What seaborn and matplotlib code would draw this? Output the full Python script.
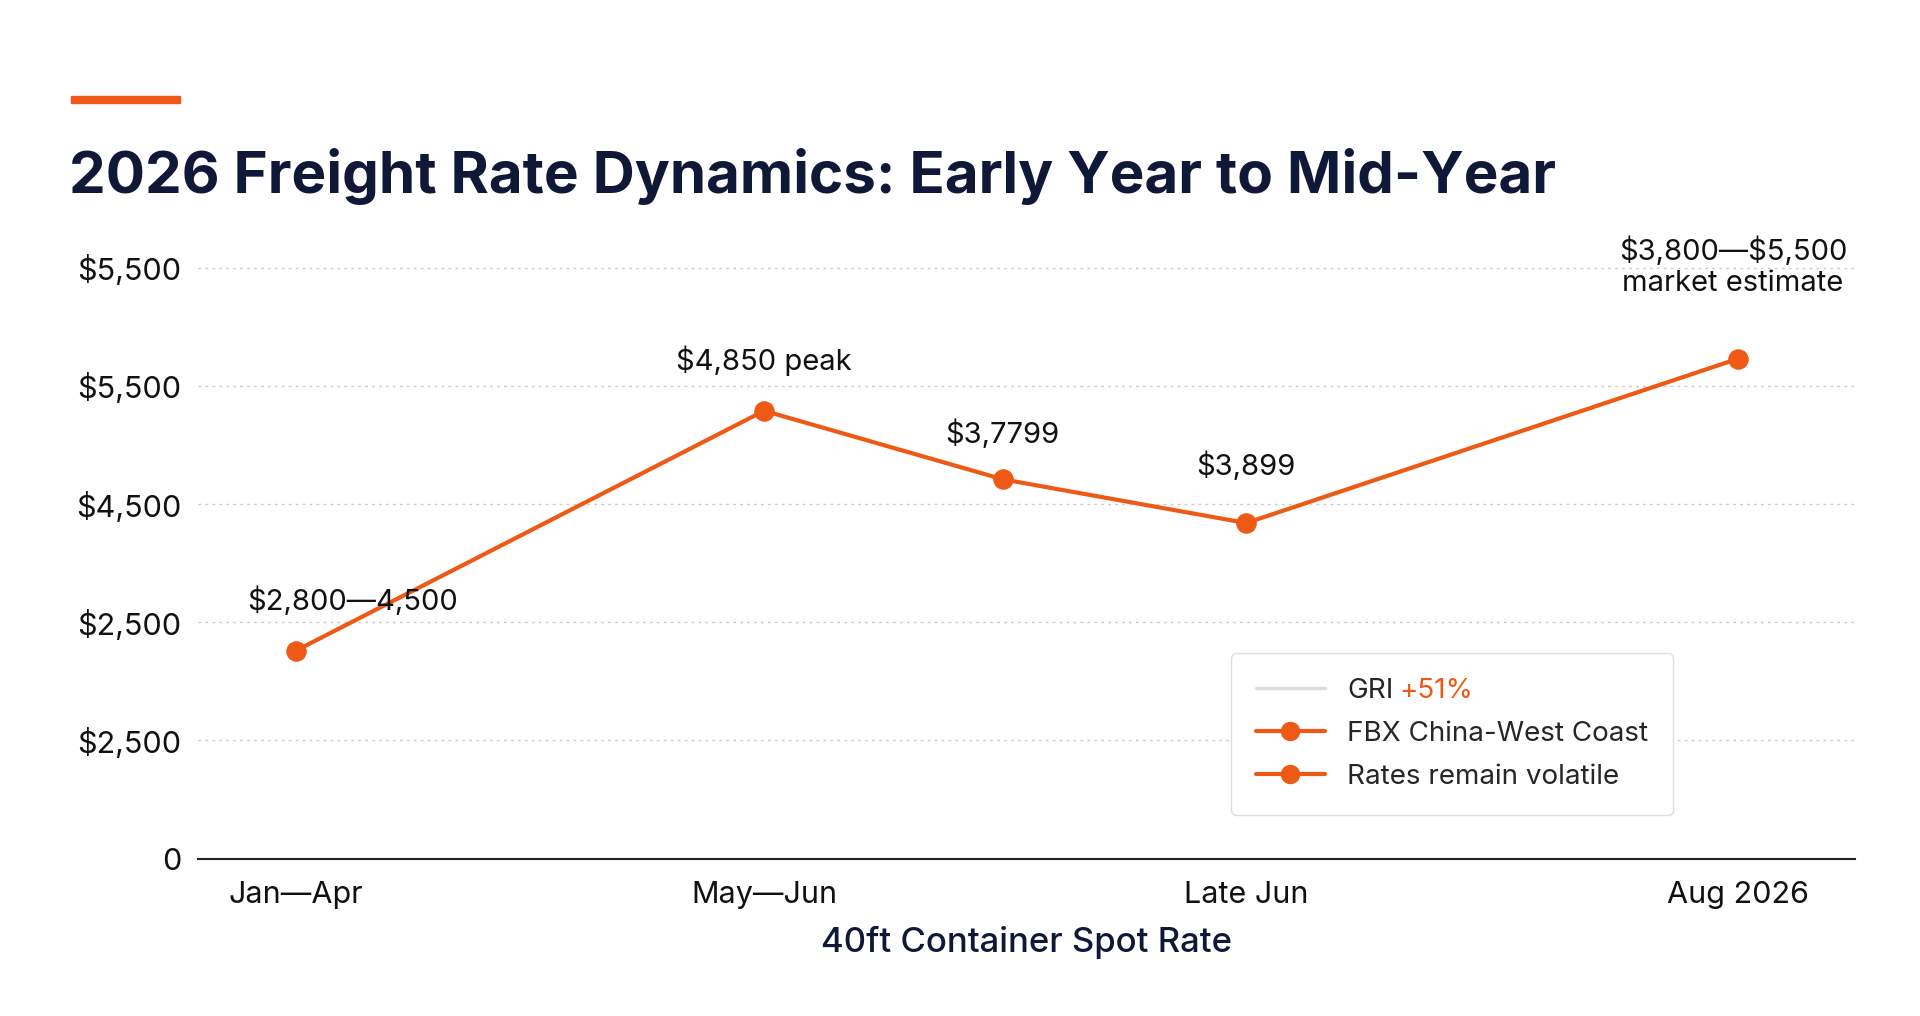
import matplotlib
matplotlib.use("Agg")
import matplotlib.pyplot as plt
import seaborn as sns
import pandas as pd
from matplotlib.lines import Line2D
from matplotlib.patches import Rectangle

categories = ["Jan—Apr", "May—Jun", "", "Late Jun", "Aug 2026"]
x_pos = [0, 1, 1.51, 2.03, 3.08]
values = [1.76, 3.79, 3.21, 2.84, 4.23]
point_labels = [r"\$2,800—4,500", r"\$4,850 peak", r"\$3,7799", r"\$3,899", "\\$3,800—\\$5,500\nmarket estimate"]
ytick_labels = [r"0", r"\$2,500", r"\$2,500", r"\$4,500", r"\$5,500", r"\$5,500"]
xtick_idx = [0, 1, 3, 4]

sns.set_theme(style="white")
plt.rcParams['font.family'] = ['Inter', 'DejaVu Sans']
orange = "#EE5A16"
navy = "#0F1836"

fig = plt.figure(figsize=(19.2, 10.16), dpi=100)
ax = fig.add_axes([0.103, 0.155, 0.863, 0.593])
df = pd.DataFrame({"x": x_pos, "y": values})
sns.lineplot(data=df, x="x", y="y", ax=ax, color=orange, lw=3, marker="o",
             markersize=14, markeredgecolor=orange)
ax.set_xlim(-0.21, 3.33)
ax.set_ylim(0, 5.1)
ax.set_yticks(range(6))
ax.set_yticklabels(ytick_labels, fontsize=22, color="#111")
ax.set_xticks([x_pos[i] for i in xtick_idx])
ax.set_xticklabels([categories[i] for i in xtick_idx], fontsize=22, color="#111")
ax.tick_params(axis="x", length=8, width=1.2, color="#222", pad=8)
ax.tick_params(axis="y", length=0, pad=12)
for s in ["top", "right", "left"]:
    ax.spines[s].set_visible(False)
ax.spines["bottom"].set_color("#222"); ax.spines["bottom"].set_linewidth(1.5)
ax.grid(axis="y", ls=(0, (2, 3)), color="#ccc", lw=1)
ax.set_ylabel("")
ax.set_xlabel("40ft Container Spot Rate", fontsize=25, color=navy, labelpad=12, fontweight="medium")

offs = [(0.12, 0.42), (0, 0.42), (0, 0.38), (0, 0.48), (-0.01, 0.78)]
for x, y, t, (dx, dy) in zip(x_pos, values, point_labels, offs):
    ax.text(x + dx, y + dy, t, ha="center", va="center", fontsize=21, color="#111", linespacing=1.2)

handles = [Line2D([], [], color="#ddd", lw=2.5),
           Line2D([], [], color=orange, lw=3, marker="o", markersize=13),
           Line2D([], [], color=orange, lw=3, marker="o", markersize=13)]
leg = ax.legend(handles, ["GRI", "FBX China-West Coast", "Rates remain volatile"],
                loc="lower left", bbox_to_anchor=(0.615, 0.05), fontsize=20,
                frameon=True, borderpad=0.9, labelspacing=0.6, handlelength=2.5,
                edgecolor="#ddd", fancybox=True, framealpha=1)
fig.canvas.draw()
t0 = leg.get_texts()[0]
bb = t0.get_window_extent()
fig.text((bb.x1 + 6) / fig.bbox.width, (bb.y0 + bb.y1) / 2 / fig.bbox.height, "+51%",
         color=orange, fontsize=20, va="center", ha="left")

fig.patches.append(Rectangle((0.037, 0.899), 0.057, 0.007, transform=fig.transFigure,
                             color=orange, figure=fig))
fig.text(0.036, 0.826, "2026 Freight Rate Dynamics: Early Year to Mid-Year",
         fontsize=42, fontweight="bold", color=navy, va="center")
fig.savefig("out.png", dpi=100, facecolor="white")
